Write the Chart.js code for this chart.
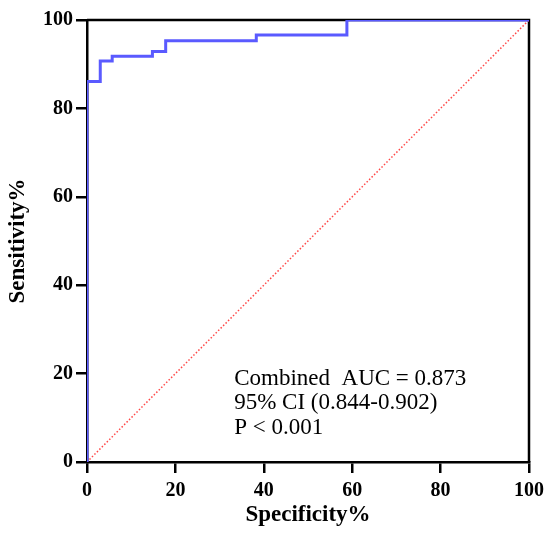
<!DOCTYPE html>
<html>
<head>
<meta charset="utf-8">
<title>ROC</title>
<script src="https://cdn.jsdelivr.net/npm/chart.js"></script>
<style>
  html, body { margin: 0; padding: 0; background: #fff; }
  #roc { display: block; }
</style>
</head>
<body>
<canvas id="roc" width="547" height="535"></canvas>
<script>
    // ROC 곡선 꼭짓점 (계단형)
    const specificity = [0, 0, 3.0, 5.7, 14.8, 17.8, 38.3, 58.8, 100];
    const sensitivity = [0, 86.1, 90.7, 91.8, 92.9, 95.3, 96.6, 100, 100];

    // 기준선
    const refX = [0, 100];
    const refY = [0, 100];

    const tickValues = [0, 20, 40, 60, 80, 100];

    const noteLines = [
        'Combined  AUC = 0.873',
        '95% CI (0.844-0.902)',
        'P < 0.001'
    ];

    const serif = '"Liberation Serif", "Times New Roman", serif';

    // 위쪽, 오른쪽 테두리
    const frame = {
        id: 'frame',
        beforeDatasetsDraw(chart) {
            const { ctx, chartArea } = chart;
            ctx.save();
            ctx.strokeStyle = '#000';
            ctx.lineWidth = 2.5;
            ctx.beginPath();
            ctx.moveTo(chartArea.left, chartArea.top);
            ctx.lineTo(chartArea.right, chartArea.top);
            ctx.lineTo(chartArea.right, chartArea.bottom);
            ctx.stroke();
            ctx.restore();
        }
    };

    // AUC 설명 문구
    const note = {
        id: 'note',
        afterDraw(chart) {
            const { ctx } = chart;
            const x = chart.scales.x.getPixelForValue(33.3);
            let y = chart.scales.y.getPixelForValue(17.5);
            ctx.save();
            ctx.fillStyle = '#000';
            ctx.font = '23px ' + serif;
            ctx.textBaseline = 'alphabetic';
            noteLines.forEach(line => {
                ctx.fillText(line, x, y);
                y += 24.8;
            });
            ctx.restore();
        }
    };

    const axisCommon = {
        type: 'linear',
        min: 0,
        max: 100,
        grid: { display: true, drawOnChartArea: false, drawTicks: true, tickLength: 11, color: '#000', lineWidth: 2.5 },
        border: { display: true, color: '#000', width: 2.5 },
        afterBuildTicks: (scale) => { scale.ticks = tickValues.map(v => ({ value: v })); }
    };

    new Chart(document.getElementById('roc'), {
        type: 'line',
        data: {
            datasets: [
                {
                    data: specificity.map((x, i) => ({ x, y: sensitivity[i] })),
                    borderColor: 'rgb(90, 90, 255)',
                    borderWidth: 3,
                    stepped: true,
                    pointRadius: 0,
                    fill: false
                },
                {
                    data: refX.map((x, i) => ({ x, y: refY[i] })),
                    borderColor: 'rgb(255, 70, 70)',
                    borderWidth: 1.5,
                    borderDash: [1.5, 2],
                    pointRadius: 0,
                    fill: false
                }
            ]
        },
        options: {
            responsive: false,
            animation: false,
            layout: { padding: { top: 20, right: 18, left: 0, bottom: 0 } },
            plugins: {
                legend: { display: false },
                tooltip: { enabled: false }
            },
            scales: {
                x: {
                    ...axisCommon,
                    position: 'bottom',
                    ticks: { color: '#000', padding: 6, maxRotation: 0, font: { family: serif, size: 20, weight: 'bold' } },
                    title: { display: true, text: 'Specificity%', color: '#000', padding: { top: 0, bottom: 6 }, font: { family: serif, size: 23, weight: 'bold' } },
                    afterFit: (scale) => {
                        scale.height = 73;
                        scale.paddingLeft = 0;
                        scale.paddingRight = 0;
                    }
                },
                y: {
                    ...axisCommon,
                    position: 'left',
                    ticks: { color: '#000', padding: 3, font: { family: serif, size: 20, weight: 'bold' } },
                    title: { display: true, text: 'Sensitivity%', color: '#000', padding: { top: 4, bottom: 0 }, font: { family: serif, size: 23, weight: 'bold' } },
                    afterFit: (scale) => {
                        scale.width = 87;
                        scale.paddingTop = 0;
                        scale.paddingBottom = 0;
                    }
                }
            }
        },
        plugins: [frame, note]
    });
</script>
</body>
</html>
